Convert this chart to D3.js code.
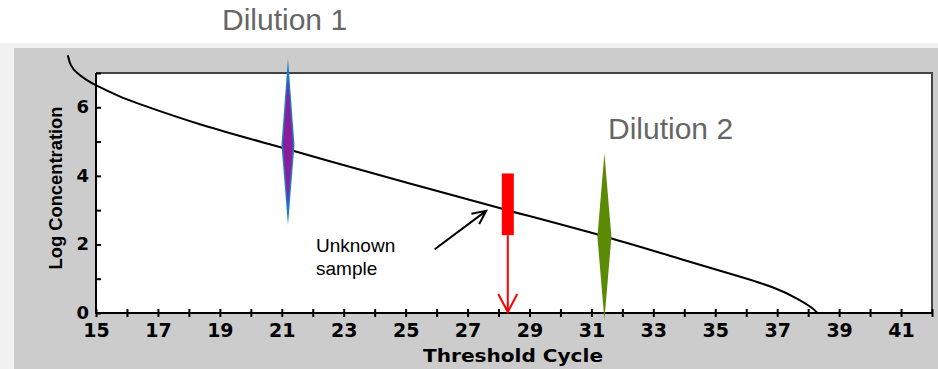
<!DOCTYPE html>
<html>
<head>
<meta charset="utf-8">
<script src="https://cdn.jsdelivr.net/npm/d3@7"></script>
<style>
  body { margin: 0; background: #fff; }
  svg { display: block; }
</style>
</head>
<body>
<svg id="chart"></svg>
<script>
// standard curve (threshold cycle vs log concentration)
const curveCycle = [14.09, 14.16, 14.38, 14.70, 14.97, 15.77, 16.2, 18.35, 21.0, 22.2, 25.0, 28.25, 31.63, 33.95, 35.99, 36.94, 37.71, 38.14, 38.3];
const curveLog   = [7.52, 7.23, 6.99, 6.79, 6.65, 6.31, 6.16, 5.48, 4.83, 4.51, 3.81, 3.00, 2.20, 1.55, 1.01, 0.74, 0.40, 0.15, 0.0];

// dilution markers: cycle, top, middle, bottom (log conc)
const dilutionNames = ["Dilution 1", "Dilution 2"];
const dilutionCycle = [21.2, 31.42];
const dilutionTop   = [7.43, 4.66];
const dilutionMid   = [4.9, 2.22];
const dilutionBot   = [2.57, -0.2];

// unknown sample
const unknownCycle = 28.3;
const unknownTop = 4.07;
const unknownBot = 2.27;

const xTicks = d3.range(15, 43);
const yTicks = d3.range(0, 8);

const W = 938, H = 369;
const svg = d3.select("#chart").attr("width", W).attr("height", H);

// backgrounds
svg.append("rect").attr("x", 0).attr("y", 43).attr("width", W).attr("height", H - 43).attr("fill", "#f1f1f1");
svg.append("rect").attr("x", 14).attr("y", 48).attr("width", W - 14).attr("height", H - 48).attr("fill", "#cccccc");

const x = d3.scaleLinear().domain([15, 42]).range([96, 932]);
const y = d3.scaleLinear().domain([0, 7]).range([313, 73]);

svg.append("rect")
    .attr("x", x(15)).attr("y", y(7))
    .attr("width", x(42) - x(15)).attr("height", y(0) - y(7))
    .attr("fill", "#fff");

// frame top/right
svg.append("path")
    .attr("d", `M${x(15)},${y(7)}H${x(42)}V${y(0)}`)
    .attr("fill", "none").attr("stroke", "#444").attr("stroke-width", 2);

// axes
const tickFont = "'DejaVu Sans', sans-serif";
const xAxis = d3.axisBottom(x).tickValues(xTicks).tickSize(4)
    .tickFormat(d => d % 2 === 1 ? d : "");
const gx = svg.append("g").attr("transform", `translate(0,${y(0)})`).call(xAxis);
gx.select(".domain").remove();
gx.selectAll(".tick line").attr("y1", -4).attr("stroke", "#000").attr("stroke-width", 2);
gx.selectAll(".tick text")
    .attr("y", 24).attr("dy", null)
    .style("font-family", tickFont).style("font-weight", "bold").style("font-size", "19px")
    .attr("fill", "#000");

const yAxis = d3.axisLeft(y).tickValues(yTicks).tickSize(6)
    .tickFormat(d => d % 2 === 0 ? d : "");
const gy = svg.append("g").attr("transform", `translate(${x(15)},0)`).call(yAxis);
gy.select(".domain").remove();
gy.selectAll(".tick line").attr("x2", 5).attr("stroke", "#000").attr("stroke-width", 2);
gy.selectAll(".tick text")
    .attr("x", -7).attr("dy", "0.3em")
    .style("font-family", tickFont).style("font-weight", "bold").style("font-size", "18px")
    .attr("fill", "#000");

svg.append("path")
    .attr("d", `M${x(15)},${y(7)}V${y(0)}H${x(42)}`)
    .attr("fill", "none").attr("stroke", "#000").attr("stroke-width", 2);

// axis titles
svg.append("text")
    .attr("x", (x(15) + x(42)) / 2 - 1).attr("y", 362)
    .attr("text-anchor", "middle")
    .style("font-family", tickFont).style("font-weight", "bold").style("font-size", "18px")
    .attr("textLength", 180).attr("lengthAdjust", "spacingAndGlyphs")
    .text("Threshold Cycle");

svg.append("text")
    .attr("transform", "translate(62,188) rotate(-90)")
    .attr("text-anchor", "middle")
    .style("font-family", "'Liberation Sans', Arial, sans-serif").style("font-weight", "bold").style("font-size", "19px")
    .attr("textLength", 163).attr("lengthAdjust", "spacingAndGlyphs")
    .text("Log Concentration");

// standard curve
const pts = curveCycle.map((c, i) => [c, curveLog[i]]);
svg.append("path")
    .datum(pts)
    .attr("d", d3.line().x(d => x(d[0])).y(d => y(d[1])).curve(d3.curveBasis))
    .attr("fill", "none").attr("stroke", "#000").attr("stroke-width", 2);

// diamonds
function diamond(c, top, mid, bot, hw) {
    return `M${x(c)},${y(top)}L${x(c) + hw},${y(mid)}L${x(c)},${y(bot)}L${x(c) - hw},${y(mid)}Z`;
}
svg.append("path").attr("d", diamond(dilutionCycle[0], dilutionTop[0], dilutionMid[0], dilutionBot[0], 6.5)).attr("fill", "#1b7bc8");
svg.append("path").attr("d", diamond(dilutionCycle[0], dilutionTop[0] - 0.6, dilutionMid[0], dilutionBot[0] + 0.6, 5)).attr("fill", "#8c1c9a");
svg.append("path").attr("d", diamond(dilutionCycle[1], dilutionTop[1], dilutionMid[1], dilutionBot[1], 7)).attr("fill", "#5b8a04");

// dilution labels
const labelFont = "'Liberation Sans', Arial, sans-serif";
svg.append("text").attr("x", 222).attr("y", 30)
    .style("font-family", labelFont).style("font-size", "30px").attr("fill", "#666")
    .text(dilutionNames[0]);
svg.append("text").attr("x", 608).attr("y", 139)
    .style("font-family", labelFont).style("font-size", "30px").attr("fill", "#666")
    .text(dilutionNames[1]);

// unknown sample bar and arrow down
svg.append("rect")
    .attr("x", x(unknownCycle) - 6).attr("y", y(unknownTop))
    .attr("width", 12).attr("height", y(unknownBot) - y(unknownTop))
    .attr("fill", "#ff0000");
svg.append("path")
    .attr("d", `M${x(unknownCycle)},${y(unknownBot)}V${y(0) - 1}M${x(unknownCycle) - 9.5},${y(0) - 19}L${x(unknownCycle)},${y(0) - 1}L${x(unknownCycle) + 9.5},${y(0) - 19}`)
    .attr("fill", "none").attr("stroke", "#ff0000").attr("stroke-width", 2);

// pointer arrow
const ax0 = x(25.94), ay0 = y(1.86), ax1 = x(27.6), ay1 = y(2.98);
const ang = Math.atan2(ay1 - ay0, ax1 - ax0);
const hl = 15;
svg.append("path")
    .attr("d", `M${ax0},${ay0}L${ax1},${ay1}` +
        `M${ax1 - hl * Math.cos(ang - 0.45)},${ay1 - hl * Math.sin(ang - 0.45)}L${ax1},${ay1}` +
        `L${ax1 - hl * Math.cos(ang + 0.45)},${ay1 - hl * Math.sin(ang + 0.45)}`)
    .attr("fill", "none").attr("stroke", "#000").attr("stroke-width", 2);

svg.append("text").attr("x", 316).attr("y", 252)
    .style("font-family", labelFont).style("font-size", "19px").attr("fill", "#000")
    .text("Unknown");
svg.append("text").attr("x", 316).attr("y", 275)
    .style("font-family", labelFont).style("font-size", "19px").attr("fill", "#000")
    .text("sample");
</script>
</body>
</html>
